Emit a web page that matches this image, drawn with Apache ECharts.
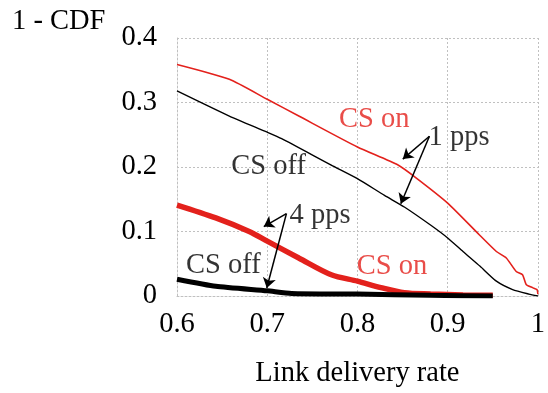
<!DOCTYPE html>
<html>
<head>
<meta charset="utf-8">
<script src="https://cdn.jsdelivr.net/npm/echarts@6/dist/echarts.min.js"></script>
<style>html,body{margin:0;padding:0;background:#fff;}#c{width:548px;height:393px;}</style>
</head>
<body>
<div id="c"></div>
<script>
// Data (x = link delivery rate, y = 1 - CDF)
var csOn1pps = [[0.6,0.359],[0.658,0.336],[0.7,0.305],[0.735,0.279],[0.8,0.231],[0.845,0.203],[0.866,0.182],[0.9,0.144],[0.935,0.095],[0.954,0.069],[0.965,0.059],[0.976,0.038],[0.983,0.033],[0.987,0.018],[0.994,0.013],[0.999,0.010],[1.0,0.003]];
var csOff1pps = [[0.6,0.318],[0.658,0.279],[0.7,0.254],[0.716,0.244],[0.771,0.203],[0.8,0.182],[0.83,0.156],[0.852,0.138],[0.881,0.110],[0.9,0.090],[0.917,0.069],[0.936,0.046],[0.954,0.023],[0.972,0.010],[0.99,0.003],[1.0,0.0]];
var csOn4pps = [[0.6,0.141],[0.643,0.121],[0.68,0.100],[0.7,0.085],[0.735,0.059],[0.771,0.033],[0.8,0.023],[0.826,0.013],[0.852,0.005],[0.881,0.003],[0.917,0.0015],[0.95,0.001]];
var csOff4pps = [[0.6,0.026],[0.643,0.015],[0.7,0.008],[0.727,0.004],[0.8,0.003],[0.881,0.001],[0.95,0.0]];
var xTicks = [0.6,0.7,0.8,0.9,1];
var yTicks = [0,0.1,0.2,0.3,0.4];
var labelTexts = ['CS on','1 pps','CS off','4 pps','CS off','CS on'];
var labelCoords = [[0.8186,0.274],[0.9126,0.246],[0.7016,0.200],[0.7585,0.1246],[0.6514,0.0477],[0.8383,0.046]];
var labelColors = ['#e3211c','#000','#000','#000','#000','#e3211c'];
var arrows = [[[0.8798,0.2477],[0.8503,0.2123]],[[0.8798,0.2477],[0.8481,0.1431]],[[0.7213,0.1277],[0.6962,0.1077]],[[0.7213,0.1277],[0.6995,0.0123]]];

var FONT = '"Liberation Serif", "DejaVu Serif", serif';
var FS = 28.5;
var RED = '#e3211c';
var chart = echarts.init(document.getElementById('c'), null, {renderer:'canvas'});
var gridLine = {show:true, lineStyle:{color:'#c0c0c0', type:[2,2], width:1}};
chart.setOption({
  animation:false,
  backgroundColor:'#fff',
  title:{text:'1 - CDF', left:12, top:7, padding:0, textStyle:{fontFamily:FONT, fontSize:FS, fontWeight:'normal', color:'#000'}},
  grid:{left:177, right:5, top:38, bottom:95, containLabel:false, show:false},
  xAxis:{type:'value', min:xTicks[0], max:xTicks[xTicks.length-1], interval:0.1,
    name:'Link delivery rate', nameLocation:'middle', nameGap:63,
    nameTextStyle:{fontFamily:FONT, fontSize:FS, color:'#000'},
    axisLine:{show:true, lineStyle:{color:'#c0c0c0', type:[2,2]}},
    axisTick:{show:false},
    axisLabel:{fontFamily:FONT, fontSize:FS, color:'#000', margin:14, formatter:function(v){return String(+v.toFixed(2));}},
    splitLine:gridLine},
  yAxis:{type:'value', min:yTicks[0], max:yTicks[yTicks.length-1], interval:0.1,
    axisLine:{show:true, lineStyle:{color:'#c0c0c0', type:[2,2]}},
    axisTick:{show:false},
    axisLabel:{fontFamily:FONT, fontSize:FS, color:'#000', margin:20, formatter:function(v){return String(+v.toFixed(2));}},
    splitLine:gridLine},
  series:[
    {type:'line', data:csOn1pps, smooth:0.2, showSymbol:false, symbol:'none', lineStyle:{color:RED, width:1.6}, z:3},
    {type:'line', data:csOff1pps, smooth:0.2, showSymbol:false, symbol:'none', lineStyle:{color:'#000', width:1.4}, z:3},
    {type:'line', data:csOn4pps, smooth:0.3, showSymbol:false, symbol:'none', lineStyle:{color:RED, width:5.5}, z:4},
    {type:'line', data:csOff4pps, smooth:0.2, showSymbol:false, symbol:'none', lineStyle:{color:'#000', width:5}, z:5},
    {type:'scatter', symbolSize:0, z:6,
      data:labelTexts.map(function(t,i){return {name:t, value:labelCoords[i], label:{color:labelColors[i]}};}),
      label:{show:true, position:'inside', formatter:'{b}', fontFamily:FONT, fontSize:FS},
      markLine:{silent:true, symbol:['none','arrow'], symbolSize:10, animation:false,
        label:{show:false}, lineStyle:{color:'#000', width:1.5, type:'solid'},
        data:arrows.map(function(a){return [{coord:a[0]},{coord:a[1]}];})}
    }
  ]
});
</script>
</body>
</html>
